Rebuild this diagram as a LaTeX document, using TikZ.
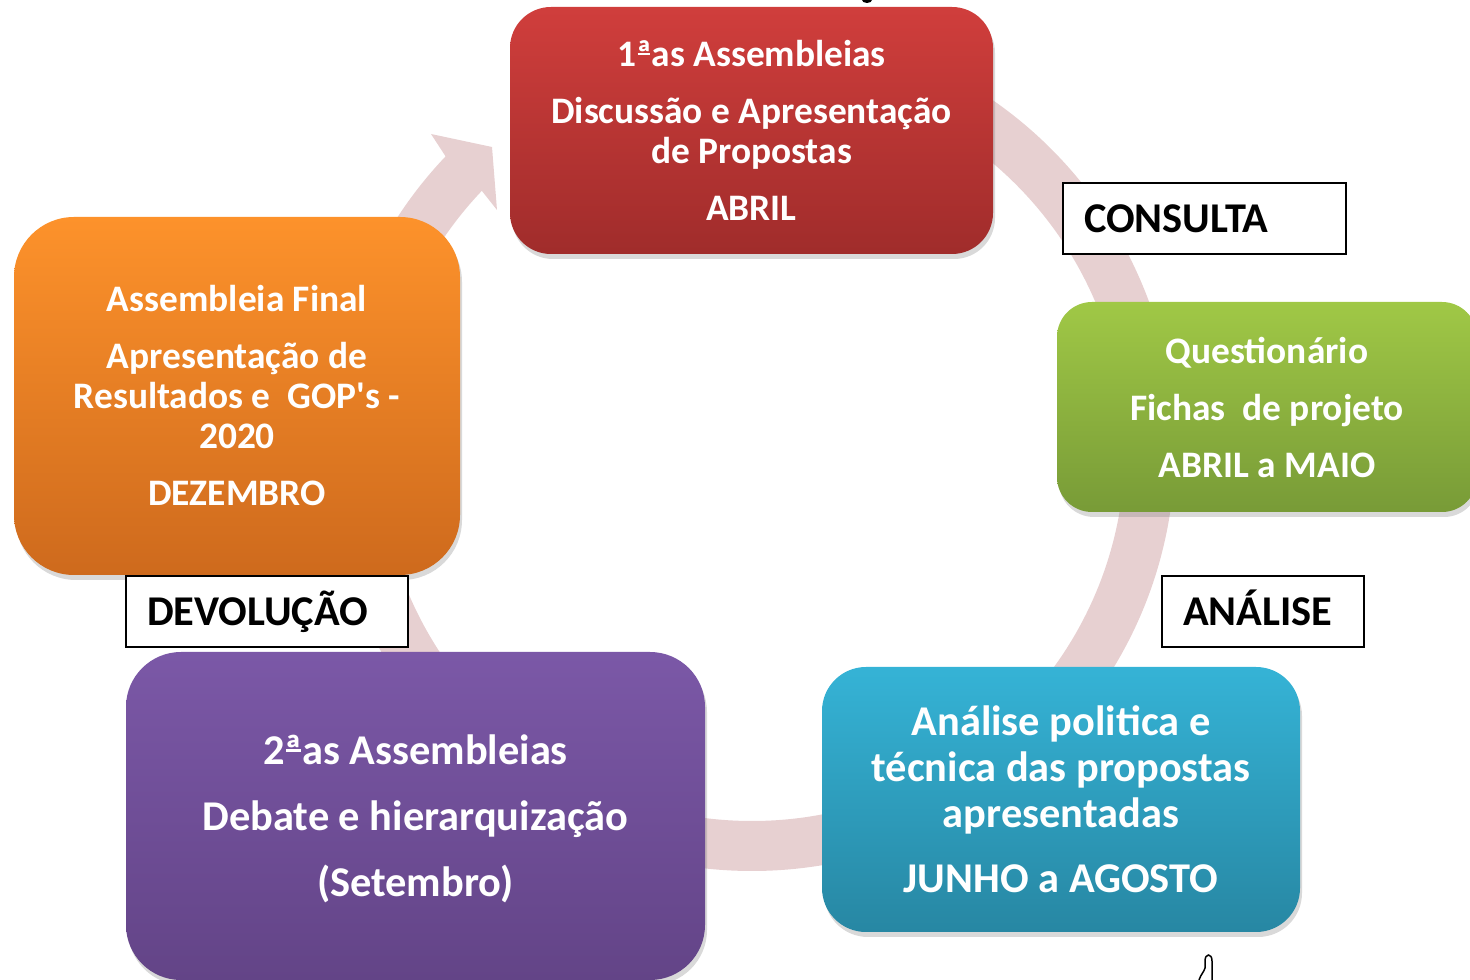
\documentclass[tikz,border=0pt]{standalone}
\usepackage{fontspec}
\setmainfont{Carlito}
\usetikzlibrary{shadows}
\definecolor{ringc}{RGB}{231,208,209}
\definecolor{redT}{RGB}{208,62,60}
\definecolor{redB}{RGB}{160,44,43}
\definecolor{oraT}{RGB}{253,146,43}
\definecolor{oraB}{RGB}{206,106,29}
\definecolor{grnT}{RGB}{160,200,70}
\definecolor{grnB}{RGB}{120,155,55}
\definecolor{bluT}{RGB}{53,179,214}
\definecolor{bluB}{RGB}{39,135,163}
\definecolor{purT}{RGB}{123,88,167}
\definecolor{purB}{RGB}{99,68,135}
\newcommand\ordA{\leavevmode\setbox0\hbox{ª}\rlap{\copy0}\raisebox{0.31em}{\hspace{0.04em}\rule{\dimexpr\wd0-0.08em\relax}{0.055em}\hspace{0.04em}}}
\begin{document}
\begin{tikzpicture}[x=1pt,y=1pt,
  stagetext/.style={align=center, text=white, inner sep=0pt,
    font=\bfseries\fontsize{37.4}{40}\selectfont},
  bigtext/.style={stagetext, font=\bfseries\fontsize{42.4}{46}\selectfont},
  boxshadow/.style={drop shadow={opacity=0.3, shadow xshift=2pt, shadow yshift=-5pt}},
  stage/.style={stagetext, boxshadow},
  bigstage/.style={bigtext, boxshadow},
  tag/.style={draw=black, line width=1.6pt, fill=white, align=left,
    font=\bfseries\fontsize{42.4}{48}\selectfont, inner xsep=21pt, inner ysep=0pt,
    minimum height=71pt, text height=27.3pt, text depth=0pt}]
\useasboundingbox (0,0) rectangle (1470,980);
% cycle ring
\draw[ringc, line width=50pt] (752,532) ++(90:398) arc[start angle=90, end angle=-224, radius=398];
\fill[ringc] (445.6,823.6) -- (431,846) -- (492,833) -- (497,770) -- (481.8,789.2) -- cycle;
% stage boxes
\node[stage, rounded corners=41pt, minimum width=483pt, minimum height=247pt,
  top color=redT, bottom color=redB] (s1) at (751.5,849.5)
  {1\ordA as Assembleias\\[17pt] Discussão e Apresentação\\ de Propostas\\[17pt] ABRIL};
\node[stage, rounded corners=35pt, minimum width=420pt, minimum height=210pt,
  top color=grnT, bottom color=grnB] (s2) at (1267,573)
  {Questionário\\[17pt] Fichas\ \ de projeto\\[17pt] ABRIL a MAIO};
\node[bigstage, rounded corners=44pt, minimum width=478pt, minimum height=265pt,
  top color=bluT, bottom color=bluB] (s3) at (1061,180.5)
  {Análise politica e\\ técnica das propostas\\ apresentadas\\[19pt] JUNHO a AGOSTO};
\node[bigstage, rounded corners=55pt, minimum width=579pt, minimum height=328pt,
  top color=purT, bottom color=purB] (s4) at (415.5,164) {};
\node[bigtext] (s4t) at (415.5,161)
  {2\ordA as Assembleias\\[20pt] Debate e hierarquização\\[20pt] (Setembro)};
\node[stage, rounded corners=60pt, minimum width=446pt, minimum height=358pt,
  top color=oraT, bottom color=oraB] (s5) at (237,584)
  {Assembleia Final\\[17pt] Apresentação de\\ Resultados e\ \ GOP\textquotesingle s -\\ 2020\\[17pt] DEZEMBRO};
% phase labels
\node[tag, text width=241pt] (consulta) at (1204.5,761.5) {CONSULTA};
\node[tag, text width=160pt] (analise) at (1263,368.5) {ANÁLISE};
\node[tag, text width=240pt] (devol) at (267,368.5) {DEVOLUÇÃO};
% fragments at the frame edges
\fill[black] (867,980) ellipse[x radius=5, y radius=3];
\draw[black, line width=1.5pt] (1199,0) .. controls (1201,6) and (1204,8) .. (1205,12) -- (1205,19) .. controls (1205,27) and (1212,27) .. (1212,19) -- (1212,0);
\end{tikzpicture}
\end{document}
